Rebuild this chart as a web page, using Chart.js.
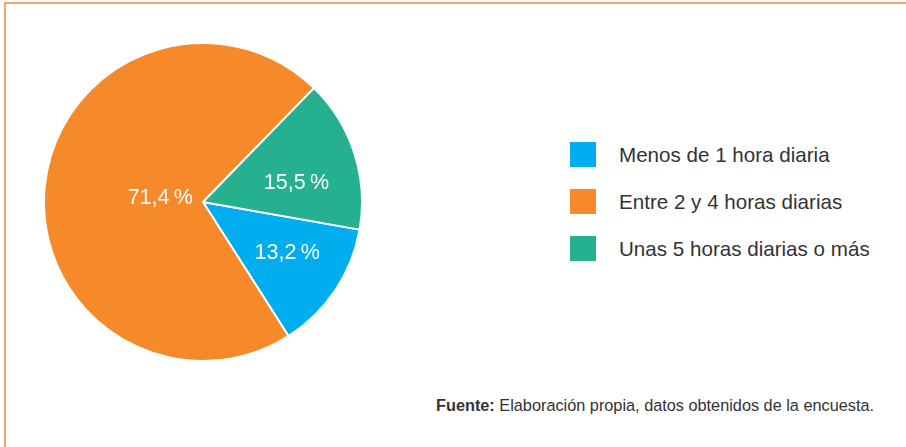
<!DOCTYPE html>
<html>
<head>
<meta charset="utf-8">
<script src="https://cdn.jsdelivr.net/npm/chart.js@4"></script>
<style>
  html, body { margin: 0; padding: 0; background: #fff; }
  body { width: 906px; height: 447px; position: relative; overflow: hidden;
         font-family: "Liberation Sans", Arial, sans-serif; }
  .frame { position: absolute; left: 4px; top: 2px; width: 910px; height: 460px;
           border-top: 2px solid #f5a461; border-left: 2px solid #f5a461; }
  .pie { position: absolute; left: 43px; top: 42px; width: 320px; height: 320px; }
  #leyenda { position: absolute; left: 570px; top: 142px; }
  .item { display: flex; align-items: center; height: 25px; margin-bottom: 22px;
          font-size: 20.6px; color: #333; }
  .caja { width: 26px; height: 25px; margin-right: 23px; }
  .fuente { position: absolute; left: 436px; top: 396px; font-size: 16.3px; color: #333; }
</style>
</head>
<body>
<div class="frame"></div>
<div class="pie"><canvas id="torta" width="320" height="320"></canvas></div>
<div id="leyenda"></div>
<div class="fuente"><b>Fuente:</b> Elaboración propia, datos obtenidos de la encuesta.</div>
<script>
var categorias = ['Menos de 1 hora diaria', 'Entre 2 y 4 horas diarias', 'Unas 5 horas diarias o más'];
var porcentajes = [13.2, 71.4, 15.5];
var colores = ['#00aeef', '#f6892a', '#25b08f'];
// posicion de la etiqueta: distancia al centro (fraccion del radio) y punto del arco
var radioEtiqueta = [0.62, 0.27, 0.6];
var anguloEtiqueta = [0.45, 0.5, 0.61];

var leyenda = document.getElementById('leyenda');
categorias.forEach(function (c, i) {
    var fila = document.createElement('div');
    fila.className = 'item';
    fila.innerHTML = '<div class="caja" style="background:' + colores[i] + '"></div>' + c;
    leyenda.appendChild(fila);
});

var etiquetas = {
    id: 'etiquetas',
    afterDatasetsDraw: function (chart) {
        var ctx = chart.ctx;
        var meta = chart.getDatasetMeta(0);
        ctx.save();
        ctx.fillStyle = '#fff';
        ctx.font = '21.5px "Liberation Sans", Arial, sans-serif';
        ctx.textAlign = 'center';
        ctx.textBaseline = 'middle';
        meta.data.forEach(function (arc, i) {
            var ang = arc.startAngle + (arc.endAngle - arc.startAngle) * anguloEtiqueta[i];
            var r = arc.outerRadius * radioEtiqueta[i];
            var x = arc.x + Math.cos(ang) * r;
            var y = arc.y + Math.sin(ang) * r;
            ctx.fillText(porcentajes[i].toFixed(1).replace('.', ',') + '\u2009%', x, y);
        });
        ctx.restore();
    }
};

new Chart(document.getElementById('torta').getContext('2d'), {
    type: 'pie',
    data: {
        labels: categorias,
        datasets: [{
            data: porcentajes,
            backgroundColor: colores,
            borderColor: '#fff',
            borderWidth: 2
        }]
    },
    options: {
        responsive: false,
        animation: false,
        rotation: 100,
        plugins: { legend: { display: false }, tooltip: { enabled: false } }
    },
    plugins: [etiquetas]
});
</script>
</body>
</html>
